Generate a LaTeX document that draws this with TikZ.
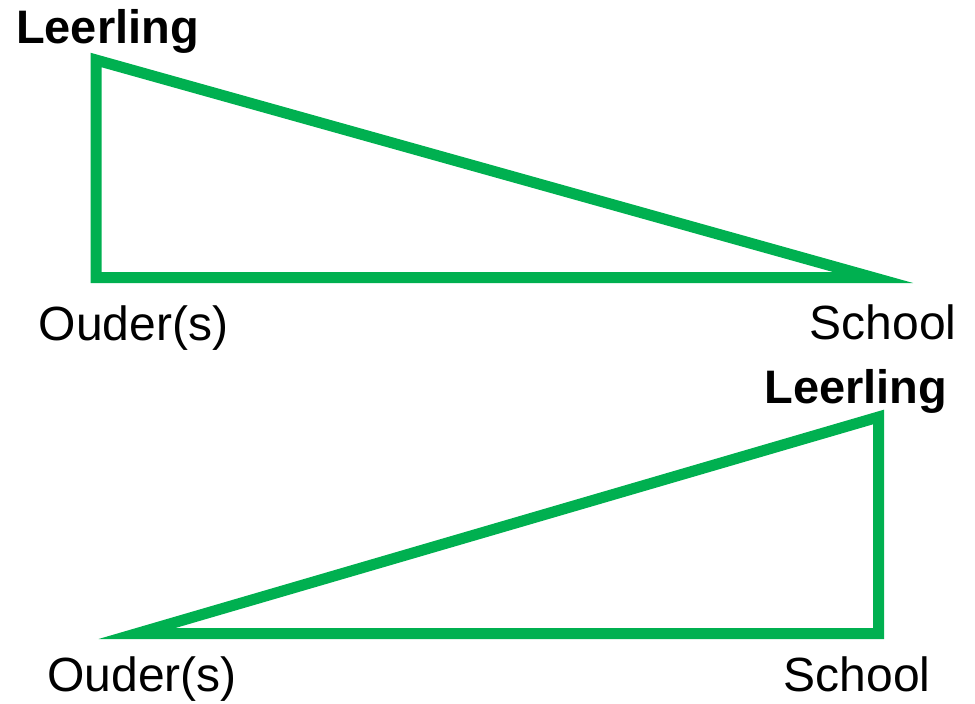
\documentclass[tikz,border=0pt]{standalone}
\usepackage{fontspec}
\setmainfont{Liberation Sans}
\usetikzlibrary{positioning}
\definecolor{edgeGreen}{RGB}{0,176,80}
\tikzset{
  side/.style={edgeGreen, line width=11pt, line join=miter},
  lbl/.style={anchor=base, inner sep=0pt, font=\fontsize{48}{56}\selectfont},
  who/.style={lbl, font=\fontsize{47}{56}\selectfont\bfseries}
}
\begin{document}
\begin{tikzpicture}[x=1pt, y=-1pt]
    \useasboundingbox (0,0) rectangle (975,704);
    % upper triangle
    \coordinate (L1) at (96, 60);
    \coordinate (O1) at (96, 277.5);
    \coordinate (S1) at (873, 277.5);
    \draw[side] (L1) -- (O1) -- (S1) -- cycle;
    \node[who] (leerling1) at (107.5, 43) {Leerling};
    \node[lbl] (ouder1) at (133.5, 340) {Ouder(s)};
    \node[lbl] (school1) at (883, 339) {School};

    % lower triangle
    \coordinate (L2) at (878.5, 417);
    \coordinate (O2) at (137, 633.5);
    \coordinate (S2) at (878.5, 633.5);
    \draw[side] (L2) -- (S2) -- (O2) -- cycle;
    \node[who] (leerling2) at (856, 403) {Leerling};
    \node[lbl] (ouder2) at (142, 691) {Ouder(s)};
    \node[lbl] (school2) at (857, 691) {School};
\end{tikzpicture}
\end{document}
